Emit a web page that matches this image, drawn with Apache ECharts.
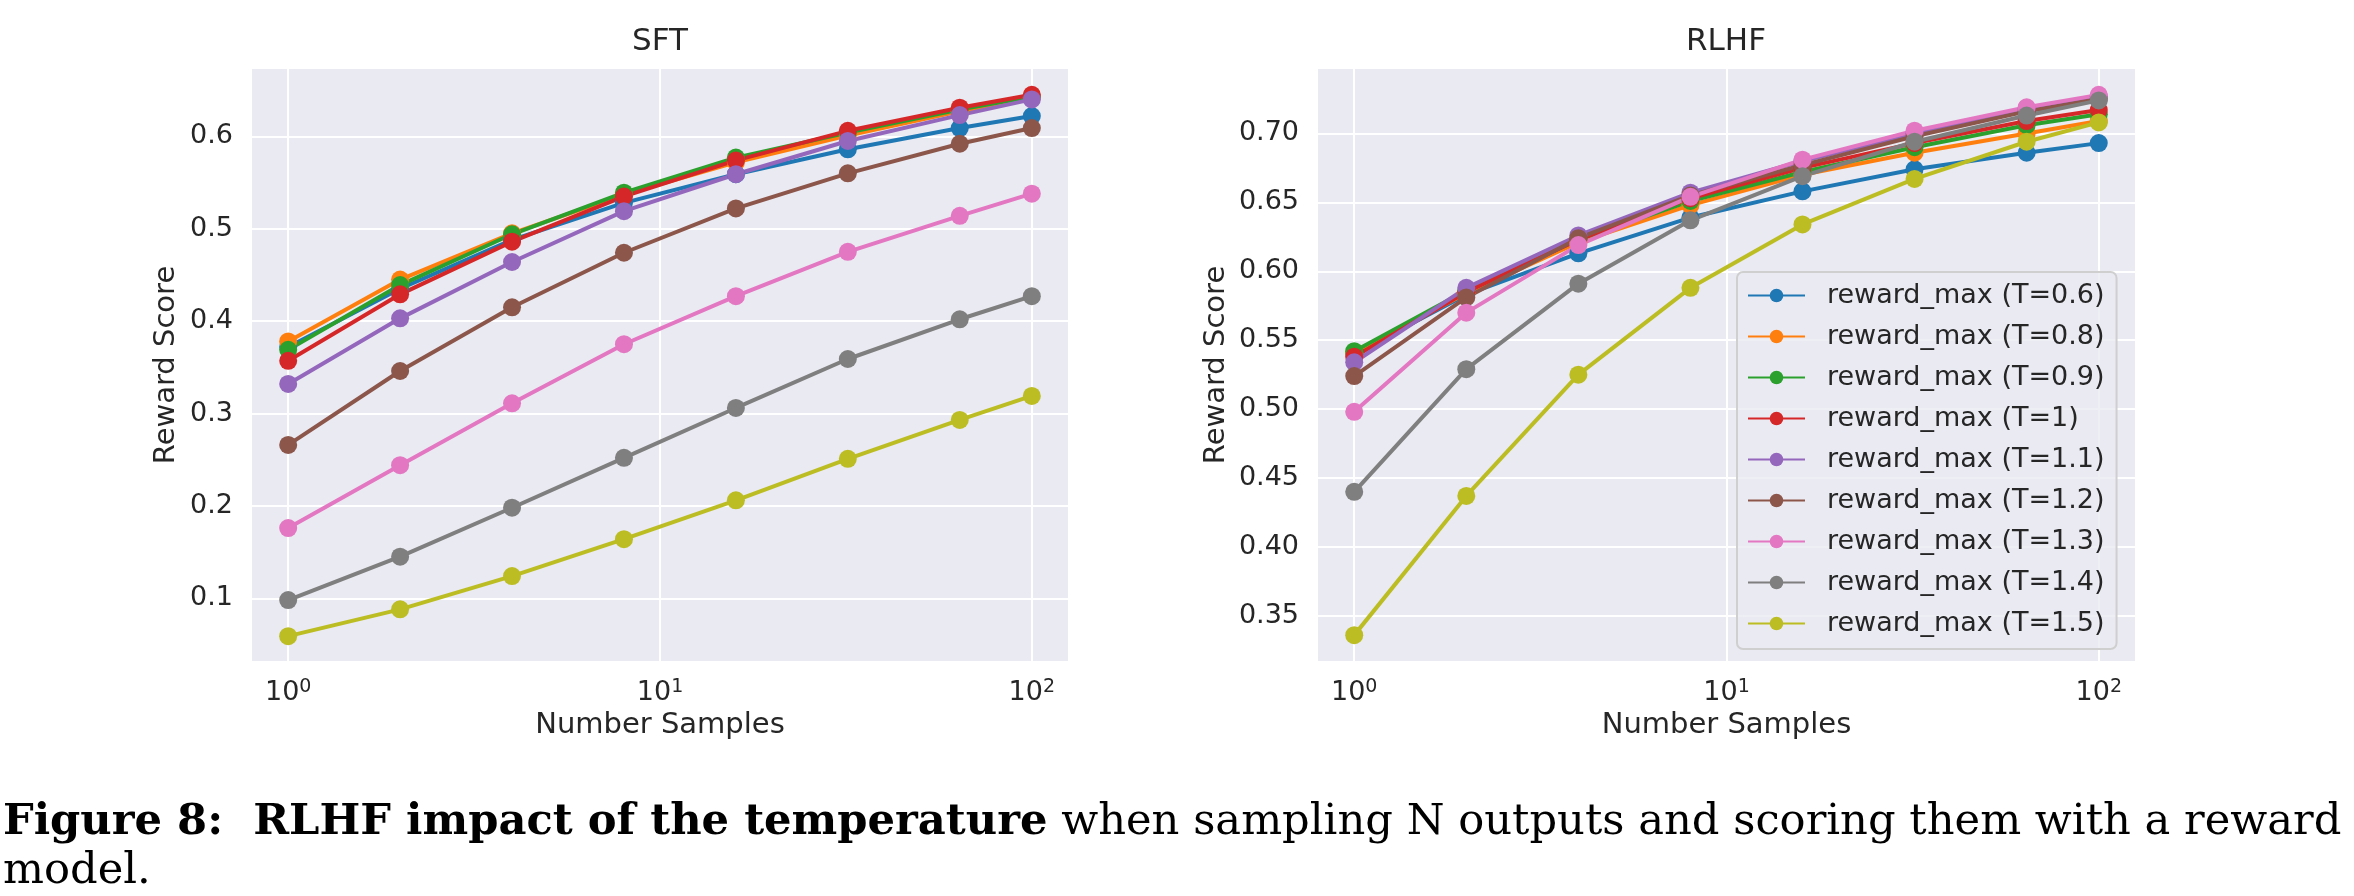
<!DOCTYPE html>
<html><head><meta charset="utf-8">
<script src="https://cdn.jsdelivr.net/npm/echarts@6/dist/echarts.min.js"></script>
<style>html,body{margin:0;padding:0;background:#fff}#c{width:2354px;height:896px}</style>
</head><body><div id="c"></div>
<script>
// ---------- data ----------
const samples = [1, 2, 4, 8, 16, 32, 64, 100];
const seriesNames = ['reward_max (T=0.6)', 'reward_max (T=0.8)', 'reward_max (T=0.9)', 'reward_max (T=1)',
  'reward_max (T=1.1)', 'reward_max (T=1.2)', 'reward_max (T=1.3)', 'reward_max (T=1.4)', 'reward_max (T=1.5)'];
const panelTitles = ['SFT', 'RLHF'];
const xTickExponents = [0, 1, 2];

// SFT panel
const sftT06 = [0.372, 0.435, 0.488, 0.528, 0.559, 0.586, 0.609, 0.622];
const sftT08 = [0.378, 0.445, 0.495, 0.537, 0.572, 0.601, 0.627, 0.642];
const sftT09 = [0.369, 0.439, 0.494, 0.539, 0.577, 0.604, 0.629, 0.643];
const sftT10 = [0.357, 0.429, 0.486, 0.535, 0.574, 0.606, 0.631, 0.645];
const sftT11 = [0.332, 0.403, 0.464, 0.519, 0.559, 0.595, 0.623, 0.640];
const sftT12 = [0.266, 0.346, 0.415, 0.474, 0.522, 0.560, 0.592, 0.609];
const sftT13 = [0.176, 0.244, 0.311, 0.375, 0.427, 0.475, 0.514, 0.538];
const sftT14 = [0.098, 0.145, 0.198, 0.252, 0.306, 0.359, 0.402, 0.427];
const sftT15 = [0.059, 0.088, 0.124, 0.164, 0.206, 0.251, 0.293, 0.319];

// RLHF panel
const rlhfT06 = [0.540, 0.583, 0.613, 0.639, 0.658, 0.674, 0.686, 0.693];
const rlhfT08 = [0.541, 0.584, 0.621, 0.648, 0.670, 0.686, 0.700, 0.709];
const rlhfT09 = [0.542, 0.586, 0.623, 0.651, 0.672, 0.690, 0.706, 0.714];
const rlhfT10 = [0.538, 0.585, 0.623, 0.653, 0.675, 0.693, 0.709, 0.717];
const rlhfT11 = [0.534, 0.588, 0.626, 0.657, 0.680, 0.700, 0.718, 0.727];
const rlhfT12 = [0.524, 0.581, 0.624, 0.655, 0.677, 0.698, 0.716, 0.725];
const rlhfT13 = [0.498, 0.570, 0.619, 0.654, 0.681, 0.702, 0.719, 0.728];
const rlhfT14 = [0.440, 0.529, 0.591, 0.637, 0.669, 0.694, 0.713, 0.724];
const rlhfT15 = [0.336, 0.437, 0.525, 0.588, 0.634, 0.667, 0.694, 0.708];

const sftSeries = [sftT06, sftT08, sftT09, sftT10, sftT11, sftT12, sftT13, sftT14, sftT15];
const rlhfSeries = [rlhfT06, rlhfT08, rlhfT09, rlhfT10, rlhfT11, rlhfT12, rlhfT13, rlhfT14, rlhfT15];

const captionBold = 'Figure 8:  RLHF impact of the temperature';
const captionRest = ' when sampling N outputs and scoring them with a reward';
const captionLine2 = 'model.';

// ---------- style ----------
const colors = ['#1f77b4', '#ff7f0e', '#2ca02c', '#d62728', '#9467bd', '#8c564b', '#e377c2', '#7f7f7f', '#bcbd22'];
const FONT = '"DejaVu Sans", sans-serif';
const SERIF = '"DejaVu Serif"';
const TXT = '#262626';

function xAxisCfg(gi) {
  return {
    type: 'log', logBase: 10, gridIndex: gi,
    min: Math.pow(10, -0.1), max: Math.pow(10, 2.1),
    name: 'Number Samples', nameLocation: 'middle', nameGap: 47,
    nameTextStyle: { fontSize: 29, color: TXT, fontFamily: FONT },
    axisLine: { show: false }, axisTick: { show: false },
    splitLine: { show: true, lineStyle: { color: '#ffffff', width: 2 } },
    axisLabel: {
      margin: 16,
      formatter: function (v) {
        const e = Math.log10(v);
        const r = Math.round(e);
        if (Math.abs(e - r) > 1e-6 || xTickExponents.indexOf(r) < 0) return '';
        return '{b|10}{s|' + r + '}';
      },
      rich: {
        b: { fontSize: 27, lineHeight: 30, color: TXT, fontFamily: FONT },
        s: { fontSize: 19, lineHeight: 13, verticalAlign: 'top', color: TXT, fontFamily: FONT }
      }
    }
  };
}
function yAxisCfg(gi, min, max, split, step, digits, gap) {
  return {
    type: 'value', gridIndex: gi, min: min, max: max, splitNumber: split,
    name: 'Reward Score', nameLocation: 'middle', nameGap: gap, nameRotate: 90,
    nameTextStyle: { fontSize: 29, color: TXT, fontFamily: FONT },
    axisLine: { show: false }, axisTick: { show: false },
    splitLine: { show: true, lineStyle: { color: '#ffffff', width: 2 } },
    axisLabel: {
      margin: 18, fontSize: 27, color: TXT, fontFamily: FONT,
      formatter: function (v) {
        const k = v / step;
        if (Math.abs(k - Math.round(k)) > 1e-6) return '';
        return v.toFixed(digits);
      }
    }
  };
}

const series = [];
[sftSeries, rlhfSeries].forEach(function (group, gi) {
  group.forEach(function (vals, i) {
    series.push({
      type: 'line', name: seriesNames[i], xAxisIndex: gi, yAxisIndex: gi,
      data: samples.map(function (s, j) { return [s, vals[j]]; }),
      symbol: 'circle', symbolSize: 18, showSymbol: true,
      lineStyle: { width: 4, color: colors[i] },
      itemStyle: { color: colors[i] },
      emphasis: { disabled: true }, silent: true
    });
  });
});

// caption font size fitted to the reference line width
const ctx = document.createElement('canvas').getContext('2d');
function capWidth(fs) {
  ctx.font = 'bold ' + fs + 'px ' + SERIF;
  const a = ctx.measureText(captionBold).width;
  ctx.font = fs + 'px ' + SERIF;
  return a + ctx.measureText(captionRest).width;
}
const capFs = 100 * 2339 / capWidth(100);

const chart = echarts.init(document.getElementById('c'), null, { renderer: 'canvas' });
chart.setOption({
  animation: false,
  backgroundColor: '#ffffff',
  color: colors,
  grid: [
    { left: 251, top: 68, width: 818, height: 594, show: true, backgroundColor: '#EAEAF2', borderWidth: 0 },
    { left: 1317, top: 68, width: 819, height: 594, show: true, backgroundColor: '#EAEAF2', borderWidth: 0 }
  ],
  xAxis: [xAxisCfg(0), xAxisCfg(1)],
  yAxis: [
    yAxisCfg(0, 0.031, 0.674, 6, 0.1, 1, 70),
    yAxisCfg(1, 0.3165, 0.7475, 8, 0.05, 2, 86)
  ],
  legend: {
    show: true, orient: 'vertical', left: 1737, top: 272,
    data: seriesNames, selectedMode: false,
    padding: [10, 12, 12, 10],
    itemWidth: 57, itemHeight: 17, itemGap: 14,
    backgroundColor: 'rgba(234,234,242,0.8)', borderColor: '#cfcfcf', borderWidth: 2, borderRadius: 6,
    textStyle: { fontSize: 27, lineHeight: 27, color: TXT, fontFamily: FONT, padding: [0, 0, 0, 17] }
  },
  graphic: [
    { type: 'text', x: 660, y: 42, style: { text: panelTitles[0], font: '31px "DejaVu Sans"', fill: TXT, align: 'center', verticalAlign: 'middle', textAlign: 'center', textVerticalAlign: 'middle' } },
    { type: 'text', x: 1726, y: 42, style: { text: panelTitles[1], font: '31px "DejaVu Sans"', fill: TXT, align: 'center', verticalAlign: 'middle', textAlign: 'center', textVerticalAlign: 'middle' } },
    { type: 'text', x: 3, y: 836 - 0.3 * capFs, style: {
        text: '{b|' + captionBold + '}{r|' + captionRest + '}',
        rich: {
          b: { fontSize: capFs, fontWeight: 'bold', fontFamily: SERIF, fill: '#000', color: '#000' },
          r: { fontSize: capFs, fontFamily: SERIF, fill: '#000', color: '#000' }
        },
        align: 'left', verticalAlign: 'middle', textAlign: 'left', textVerticalAlign: 'middle' } },
    { type: 'text', x: 3, y: 885 - 0.3 * capFs, style: { text: captionLine2, font: capFs + 'px ' + SERIF, fill: '#000', align: 'left', verticalAlign: 'middle', textAlign: 'left', textVerticalAlign: 'middle' } }
  ],
  series: series
});
</script>
</body></html>
